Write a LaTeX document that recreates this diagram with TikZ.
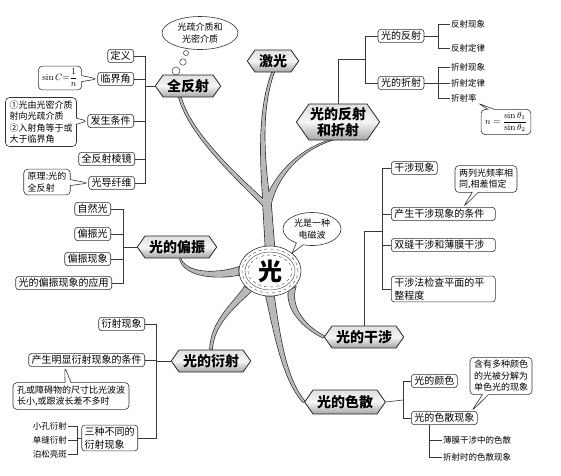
\documentclass[tikz,border=0pt]{standalone}
\usepackage{amsmath}
\usepackage[no-math]{fontspec}
\setmainfont{Noto Sans CJK SC}
\usetikzlibrary{shapes.geometric,shapes.symbols,shapes.callouts,positioning,calc,backgrounds}

% tapered branch: start, control 1, control 2, end, half width
\newcommand{\twig}[6][twigfill]{%
  \path[#1] ($#2+(#6)$) .. controls ($#3+0.6*(#6)$) and ($#4+0.35*(#6)$) ..
    ($#5+0.3*(#6)$) -- ($#5-0.3*(#6)$) .. controls ($#4-0.35*(#6)$) and ($#3-0.6*(#6)$) ..
    ($#2-(#6)$) -- cycle;}

\begin{document}
\begin{tikzpicture}[x=1pt, y=-1pt,
  topic/.style={signal, signal to=east and west, signal pointer angle=110,
                draw=gray!30!black, line width=0.8pt, top color=gray!25,
                bottom color=gray!70, middle color=gray!8, inner xsep=4pt,
                minimum height=22pt, align=center,
                font=\fontsize{14}{16}\selectfont\bfseries},
  subbox/.style={draw=gray!40!black, rounded corners=3pt, fill=white,
                 line width=0.6pt, inner xsep=3pt, inner ysep=2pt, align=left,
                 font=\fontsize{10}{12.5}\selectfont},
  note/.style={rectangle callout, draw=gray!40!black, rounded corners=4pt,
               fill=white, line width=0.6pt, inner xsep=4pt, inner ysep=3pt,
               align=left, callout pointer width=6pt,
               font=\fontsize{9}{11.5}\selectfont},
  leaf/.style={inner sep=1pt, font=\fontsize{8.5}{10}\selectfont},
  link/.style={draw=gray!45!black, line width=0.6pt},
  twigline/.style={draw=gray!30!black, line width=1.3pt, fill=gray!55},
  twigfill/.style={fill=gray!55},
  bubble/.style={ellipse, draw=gray!40!black, fill=white, line width=0.6pt,
                 align=center, inner sep=1pt, font=\fontsize{9}{12}\selectfont}
]
\useasboundingbox (0,0) rectangle (561,475);

% centre
\node[ellipse, draw=gray!40!black, line width=0.6pt, fill=white,
      minimum width=62pt, minimum height=50pt] (guang) at (270,271) {};
\node[ellipse, draw=gray!50!black, dashed, line width=0.4pt,
      minimum width=56pt, minimum height=44pt] (ring1) at (guang) {};
\node[ellipse, draw=gray!50!black, line width=0.4pt,
      minimum width=50pt, minimum height=38pt] (ring2) at (guang) {};
\node[ellipse, draw=gray!50!black, dashed, line width=0.4pt,
      minimum width=44pt, minimum height=32pt] (ring3) at (guang) {};
\node[font=\fontsize{24}{26}\selectfont\bfseries] (gz) at (guang) {光};
\node[bubble, ellipse callout, callout absolute pointer={(guang.north east)},
      minimum width=58pt, minimum height=33pt] (dcb) at (312,229) {光是一种\\电磁波};

\node[topic] (jg)   at (273,61)  {激光};
\node[topic] (qfs)  at (188,86)  {全反射};
\node[topic, inner xsep=1pt] (fszs) at (338,122) {光的反射\\和折射};
\node[topic] (pz)   at (177,247) {光的偏振};
\node[topic] (ys)   at (211,361) {光的衍射};
\node[topic] (gs)   at (364,337) {光的干涉};
\node[topic, minimum height=24pt] (ss) at (345,402) {光的色散};

\coordinate (fork) at (267,206);
\begin{scope}[on background layer]
\foreach \pass in {twigline,twigfill}{
  \path[\pass] ($(guang.north)+(-4.5,2)$) -- ($(fork)+(-4,-2)$) -- ($(fork)+(4,-2)$)
    -- ($(guang.north)+(4.5,2)$) -- cycle;
  \twig[\pass]{(fork)}{(262,160)}{(259,110)}{(jg.south)}{3.5,0}
  \twig[\pass]{(fork)}{(240,180)}{(190,135)}{([xshift=-8pt]qfs.south)}{3.5,0}
  \twig[\pass]{(fork)}{(275,175)}{(300,150)}{([xshift=-8pt]fszs.south)}{3.5,0}
  \twig[\pass]{(guang.west)}{(215,277)}{(185,275)}{([xshift=3pt]pz.south)}{0,4}
  \twig[\pass]{(guang.south west)}{(240,300)}{(212,320)}{(ys.north)}{3.5,2}
  \twig[\pass]{(guang.south east)}{(288,305)}{(300,325)}{(gs.west)}{3.5,-1.8}
  \twig[\pass]{(guang.south)}{(278,340)}{(285,380)}{(ss.west)}{4,0}
}
\end{scope}

% total reflection
\node[bubble, minimum width=76pt, minimum height=33pt] (sumi) at (200,33) {光疏介质和\\光密介质};
\node[circle, draw=gray!40!black, line width=0.5pt, minimum size=5pt, inner sep=0pt] (bub1) at (186,53) {};
\node[circle, draw=gray!40!black, line width=0.5pt, minimum size=6.5pt, inner sep=0pt] (bub2) at (183,62) {};
\node[circle, draw=gray!40!black, line width=0.5pt, minimum size=8pt, inner sep=0pt] (bub3) at (176,71) {};

\node[subbox, anchor=east] (dy)   at (134,56)  {定义};
\node[subbox, anchor=east] (ljj)  at (134,79)  {临界角};
\node[subbox, anchor=east] (fstj) at (134,121) {发生条件};
\node[subbox, anchor=east] (lj)   at (135,159) {全反射棱镜};
\node[subbox, anchor=east] (gdxw) at (135,183) {光导纤维};
\node[note, callout absolute pointer={(ljj.west)}] (sinc) at (60,78) {$\sin C{=}\dfrac{1}{n}$};
\node[note, callout absolute pointer={(fstj.west)}] (fstjn) at (41,122) {①光由光密介质\\射向光疏介质\\②入射角等于或\\大于临界角};
\node[note, callout absolute pointer={(gdxw.west)}] (ylgn) at (47,182) {原理:光的\\全反射};

\coordinate (qfsb) at (145,86);
\draw[link] (qfs.west) -- (qfsb);
\draw[link] (dy.east) -| (qfsb);
\draw[link] (ljj.east) -| (qfsb);
\draw[link] (fstj.east) -| (qfsb);
\draw[link] (lj.east) -| (qfsb);
\draw[link] (gdxw.east) -| (qfsb);

% reflection and refraction
\node[subbox] (fs) at (401,36) {光的反射};
\node[subbox] (zs) at (401,83) {光的折射};
\node[leaf, anchor=west] (fsxx) at (450,24) {反射现象};
\node[leaf, anchor=west] (fsdl) at (450,48) {反射定律};
\node[leaf, anchor=west] (zsxx) at (450,67) {折射现象};
\node[leaf, anchor=west] (zsdl) at (450,83) {折射定律};
\node[leaf, anchor=west] (zsl)  at (450,98) {折射率};
\node[note, callout absolute pointer={(zsl.south east)}] (zsln) at (506,122) {$n=\dfrac{\sin\theta_1}{\sin\theta_2}$};

\coordinate (fszsb) at (365,59);
\draw[link] (fszs.north) |- (fszsb);
\draw[link] (fs.west) -| (fszsb);
\draw[link] (zs.west) -| (fszsb);
\coordinate (fsb) at (438,36);
\draw[link] (fs.east) -- (fsb);
\draw[link] (fsxx.west) -| (fsb);
\draw[link] (fsdl.west) -| (fsb);
\coordinate (zsb) at (438,83);
\draw[link] (zs.east) -- (zsb);
\draw[link] (zsxx.west) -| (zsb);
\draw[link] (zsdl.west) -| (zsb);
\draw[link] (zsl.west) -| (zsb);

% polarization
\node[subbox, anchor=east] (zrg)  at (111,209) {自然光};
\node[subbox, anchor=east] (pzg)  at (111,234) {偏振光};
\node[subbox, anchor=east] (pzxx) at (111,259) {偏振现象};
\node[subbox, anchor=east] (pzyy) at (112,283) {光的偏振现象的应用};

\coordinate (pzb) at (123,247);
\draw[link] (pz.west) -- (pzb);
\draw[link] (zrg.east) -| (pzb);
\draw[link] (pzg.east) -| (pzb);
\draw[link] (pzxx.east) -| (pzb);
\draw[link] (pzyy.east) -| (pzb);

% diffraction
\node[subbox, anchor=east] (ysxx) at (145,324) {衍射现象};
\node[subbox, anchor=east] (mxtj) at (145,360) {产生明显衍射现象的条件};
\node[note, callout absolute pointer={([xshift=-22pt]mxtj.south)}] (mxtjn) at (71,396) {孔或障碍物的尺寸比光波波\\长小,或跟波长差不多时};
\node[subbox, anchor=east] (szbt) at (138,438) {三种不同的\\衍射现象};
\node[leaf, anchor=east] (xk)   at (68,426) {小孔衍射};
\node[leaf, anchor=east] (dfys) at (68,440) {单缝衍射};
\node[leaf, anchor=east] (bslb) at (68,454) {泊松亮斑};

\coordinate (ysb) at (156,361);
\draw[link] (ys.west) -- (ysb);
\draw[link] (ysxx.east) -| (ysb);
\draw[link] (mxtj.east) -| (ysb);
\draw[link] (szbt.east) -| (ysb);
\coordinate (szb) at (77,438);
\draw[link] (szbt.west) -- (szb);
\draw[link] (xk.east) -| (szb);
\draw[link] (dfys.east) -| (szb);
\draw[link] (bslb.east) -| (szb);

% interference
\node[subbox, anchor=west] (gsxx) at (391,168) {干涉现象};
\node[subbox, anchor=west, text width=98pt] (cstj) at (391,214) {产生干涉现象的条件};
\node[note, callout absolute pointer={([xshift=20pt]cstj.north)}] (cstjn) at (486,179) {两列光频率相\\同,相差恒定};
\node[subbox, anchor=west, text width=98pt] (sfbm) at (391,245) {双缝干涉和薄膜干涉};
\node[subbox, anchor=west, text width=98pt] (gsjc) at (391,289) {干涉法检查平面的平\\整程度};

\coordinate (gsb) at (382,231);
\draw[link] (gs.north) |- (gsb);
\draw[link] (gsxx.west) -| (gsb);
\draw[link] (cstj.west) -| (gsb);
\draw[link] (sfbm.west) -| (gsb);
\draw[link] (gsjc.west) -| (gsb);

% dispersion
\node[subbox, anchor=west] (gys)  at (411,381) {光的颜色};
\node[subbox, anchor=west] (ssxx) at (411,418) {光的色散现象};
\node[note, callout absolute pointer={([xshift=-6pt]ssxx.north east)}] (ssxxn) at (501,376) {含有多种颜色\\的光被分解为\\单色光的现象};
\node[leaf, anchor=west] (bmss) at (442,440) {薄膜干涉中的色散};
\node[leaf, anchor=west] (zsss) at (442,457) {折射时的色散现象};

\coordinate (ssb) at (403,400);
\draw[link] (ss.east) -- (ssb);
\draw[link] (gys.west) -| (ssb);
\draw[link] (ssxx.west) -| (ssb);
\draw[link] ([xshift=-15pt]ssxx.south) |- (bmss.west);
\draw[link] ([xshift=-15pt]ssxx.south) |- (zsss.west);

\end{tikzpicture}
\end{document}
